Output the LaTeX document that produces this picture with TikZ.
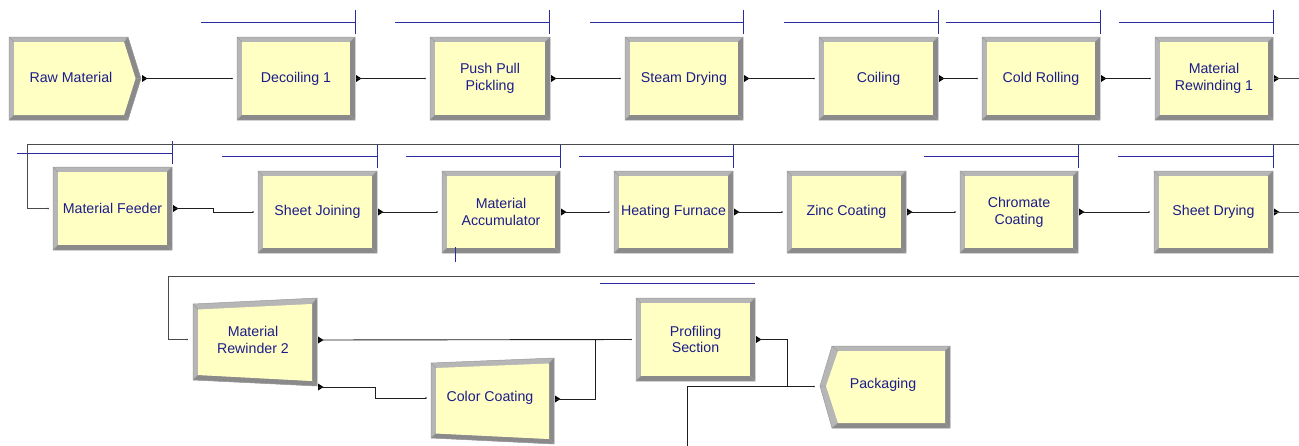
\documentclass[tikz,border=0pt]{standalone}
\usepackage{fontspec}
\setmainfont{Liberation Sans}

\definecolor{boxfill}{HTML}{FFFFC4}
\definecolor{bvlight}{HTML}{B6B6B6}
\definecolor{bvdark}{HTML}{8A8A8A}
\definecolor{bvedge}{HTML}{9C9C9C}
\definecolor{lbltext}{HTML}{1C1C8A}
\definecolor{queueblue}{HTML}{2B2BA0}
\definecolor{wire}{HTML}{1E1E1E}
\definecolor{wrapwire}{HTML}{4A4A4A}

\tikzset{
  lbl/.style={text=lbltext, font=\fontsize{14.2}{16.8}\selectfont, align=center,
              inner sep=0pt, outer sep=0pt},
  conn/.style={draw=wire, line width=0.9pt},
  wrapconn/.style={draw=wrapwire, line width=1pt},
  queueline/.style={draw=queueblue, line width=1pt},
  edgeline/.style={draw=bvedge, line width=0.5pt},
}

% small filled triangle marking an exit point
\newcommand\exitmark[1]{\fill[black] (#1) ++(0,-3.5) -- ++(5.5,3.5) -- ++(-5.5,3.5) -- cycle;}
% tiny dot marking an entry point
\newcommand\entrydot[1]{\fill[wire] (#1) circle (0.8);}

% bevelled process block: name, x1, y1, x2, y2, label
\newcommand\rectbox[6]{%
  \fill[bvlight] (#2,#3) rectangle (#4,#5);
  \fill[bvdark] (#4,#3) -- (#4,#5) -- (#2,#5) -- ({#2+5},{#5-5}) -- ({#4-5},{#5-5}) -- ({#4-5},{#3+5}) -- cycle;
  \fill[boxfill] ({#2+5},{#3+5}) rectangle ({#4-5},{#5-5});
  \draw[edgeline] (#2,#3) rectangle (#4,#5)
     (#2,#3) -- ({#2+5},{#3+5}) (#4,#3) -- ({#4-5},{#3+5})
     (#4,#5) -- ({#4-5},{#5-5}) (#2,#5) -- ({#2+5},{#5-5});
  \node[lbl, minimum width={(#4-#2)*1pt}, minimum height={(#5-#3)*1pt}]
     (#1) at ({(#2+#4)/2},{(#3+#5)/2}) {#6};
  \coordinate (#1-in) at ({#2-5},{(#3+#5)/2});
  \coordinate (#1-out) at ({#4+1},{(#3+#5)/2});
  \exitmark{#1-out}
  \entrydot{#1-in}
}

% queue bar with end tick: x1, x2, y, tick top, tick bottom
\newcommand\queuebar[5]{%
  \draw[queueline] (#1,#3) -- (#2,#3) (#2,#4) -- (#2,#5);
}

\begin{document}
\begin{tikzpicture}[x=1pt,y=-1pt]
  \fill[white] (0,0) rectangle (1299,445);
  \clip (0,0) rectangle (1299,445);

  % ---------- first line ----------
  % Raw Material (create block, arrow shaped)
  \fill[bvlight] (9,37) -- (128,37) -- (141,78.5) -- (128,120) -- (9,120) -- cycle;
  \fill[bvdark] (128,37) -- (141,78.5) -- (128,120) -- (9,120) -- (14,115) -- (124,115) -- (135.5,78.5) -- (124,42) -- cycle;
  \fill[boxfill] (14,42) -- (124,42) -- (135.5,78.5) -- (124,115) -- (14,115) -- cycle;
  \draw[edgeline] (9,37) -- (128,37) -- (141,78.5) -- (128,120) -- (9,120) -- cycle
     (9,37) -- (14,42) (128,37) -- (124,42) (141,78.5) -- (135.5,78.5) (128,120) -- (124,115) (9,120) -- (14,115);
  \node[lbl, minimum width=119pt, minimum height=83pt] (rm) at (71,77.5) {Raw Material};
  \coordinate (rm-out) at (142,78.5);
  \exitmark{rm-out}

  \rectbox{dec}{237}{37}{355}{120}{Decoiling 1}
  \rectbox{ppp}{430}{37}{550}{120}{Push Pull\\Pickling}
  \rectbox{std}{625}{37}{743}{120}{Steam Drying}
  \rectbox{coil}{819}{37}{938}{120}{Coiling}
  \rectbox{cold}{982}{37}{1100}{120}{Cold Rolling}
  \rectbox{mra}{1155}{37}{1273}{120}{Material\\Rewinding 1}

  \queuebar{201}{355}{22}{10}{34}
  \queuebar{395}{549}{22}{10}{34}
  \queuebar{590}{743}{22}{10}{34}
  \queuebar{784}{938}{22}{10}{34}
  \queuebar{946}{1100}{22}{10}{34}
  \queuebar{1119}{1273}{22}{10}{34}

  \draw[conn] (rm-out) -- (dec-in);
  \draw[conn] (dec-out) -- (ppp-in);
  \draw[conn] (ppp-out) -- (std-in);
  \draw[conn] (std-out) -- (coil-in);
  \draw[conn] (coil-out) -- (cold-in);
  \draw[conn] (cold-out) -- (mra-in);

  % ---------- second line ----------
  \rectbox{mf}{53}{167}{172}{250}{Material Feeder}
  \rectbox{sj}{258}{171}{377}{253}{Sheet Joining}
  \rectbox{acc}{442}{171}{560}{253}{Material\\Accumulator}
  \rectbox{hf}{614}{171}{733}{253}{Heating Furnace}
  \rectbox{zc}{787}{171}{906}{253}{Zinc Coating}
  \rectbox{chr}{960}{171}{1078}{253}{Chromate\\Coating}
  \rectbox{sd}{1154}{171}{1273}{253}{Sheet Drying}

  \queuebar{17}{172}{153}{141}{164}
  \queuebar{222}{377}{156}{144}{168}
  \queuebar{406}{560}{156}{144}{168}
  \queuebar{579}{733}{156}{144}{168}
  \queuebar{924}{1078}{156}{144}{168}
  \queuebar{1118}{1273}{156}{144}{168}
  \draw[queueline] (455,247) -- (455,262);

  % wrap from the end of the first line to the start of the second
  \draw[wrapconn] (mra-out) -- (1320,78.5) -- (1320,144) -- (27,144) |- (mf-in);

  \draw[conn] (mf-out) -- ++(40,0) |- (sj-in);
  \draw[conn] (sj-out) -- (acc-in);
  \draw[conn] (acc-out) -- (hf-in);
  \draw[conn] (hf-out) -- (zc-in);
  \draw[conn] (zc-out) -- (chr-in);
  \draw[conn] (chr-out) -- (sd-in);

  % ---------- third line ----------
  % Material Rewinder 2 (slanted block)
  \fill[bvlight] (193,304) -- (317,298) -- (317,386) -- (193,380) -- cycle;
  \fill[bvdark] (317,298) -- (317,386) -- (193,380) -- (198,375) -- (312,381) -- (312,304) -- cycle;
  \fill[boxfill] (198,309.5) -- (312,304) -- (312,381) -- (198,375) -- cycle;
  \draw[edgeline] (193,304) -- (317,298) -- (317,386) -- (193,380) -- cycle
     (193,304) -- (198,309.5) (317,298) -- (312,304) (317,386) -- (312,381) (193,380) -- (198,375);
  \node[lbl] (mr2) at (253,340) {Material\\Rewinder 2};
  \coordinate (mr2-in) at (187,339.5);
  \coordinate (mr2-outa) at (318,340);
  \coordinate (mr2-outb) at (318,387);
  \entrydot{mr2-in}
  \exitmark{mr2-outa}
  \exitmark{mr2-outb}

  % Color Coating (slanted block)
  \fill[bvlight] (431,363) -- (554,358) -- (554,444) -- (431,438) -- cycle;
  \fill[bvdark] (554,358) -- (554,444) -- (431,438) -- (436,433.5) -- (549,439) -- (549,363.5) -- cycle;
  \fill[boxfill] (436,368) -- (549,363.5) -- (549,439) -- (436,433.5) -- cycle;
  \draw[edgeline] (431,363) -- (554,358) -- (554,444) -- (431,438) -- cycle
     (431,363) -- (436,368) (554,358) -- (549,363.5) (554,444) -- (549,439) (431,438) -- (436,433.5);
  \node[lbl] (cc) at (490,398) {Color Coating};
  \coordinate (cc-in) at (426,398);
  \coordinate (cc-out) at (555,399);
  \entrydot{cc-in}
  \exitmark{cc-out}

  \rectbox{pf}{636}{298}{755}{381}{Profiling\\Section}
  \draw[queueline] (600,283) -- (755,283);

  % Packaging (dispose block, pointing left)
  \fill[bvlight] (820,386) -- (832,346) -- (950,346) -- (950,428) -- (832,428) -- cycle;
  \fill[bvdark] (950,346) -- (950,428) -- (832,428) -- (838,423) -- (945,423) -- (945,351) -- cycle;
  \fill[boxfill] (826,386) -- (838,351) -- (945,351) -- (945,423) -- (838,423) -- cycle;
  \draw[edgeline] (820,386) -- (832,346) -- (950,346) -- (950,428) -- (832,428) -- cycle
     (820,386) -- (826,386) (832,346) -- (838,351) (950,346) -- (945,351) (950,428) -- (945,423) (832,428) -- (838,423);
  \node[lbl] (pk) at (883,385) {Packaging};
  \coordinate (pk-in) at (814,386.5);
  \entrydot{pk-in}

  % wrap from the end of the second line to the start of the third
  \draw[wrapconn] (sd-out) -- (1320,212) -- (1320,276) -- (168,276) |- (mr2-in);

  \draw[conn] (mr2-outa) -- (pf-in);
  \draw[conn] (mr2-outb) -- (375,387) |- (cc-in);
  \draw[conn] (cc-out) -- (595,399) |- (pf-in);
  \draw[conn] (pf-out) -- (787,339.5) |- (pk-in);
  \coordinate (lowfeed) at (687,470);
  \draw[conn] (lowfeed) |- (pk-in);
\end{tikzpicture}
\end{document}
